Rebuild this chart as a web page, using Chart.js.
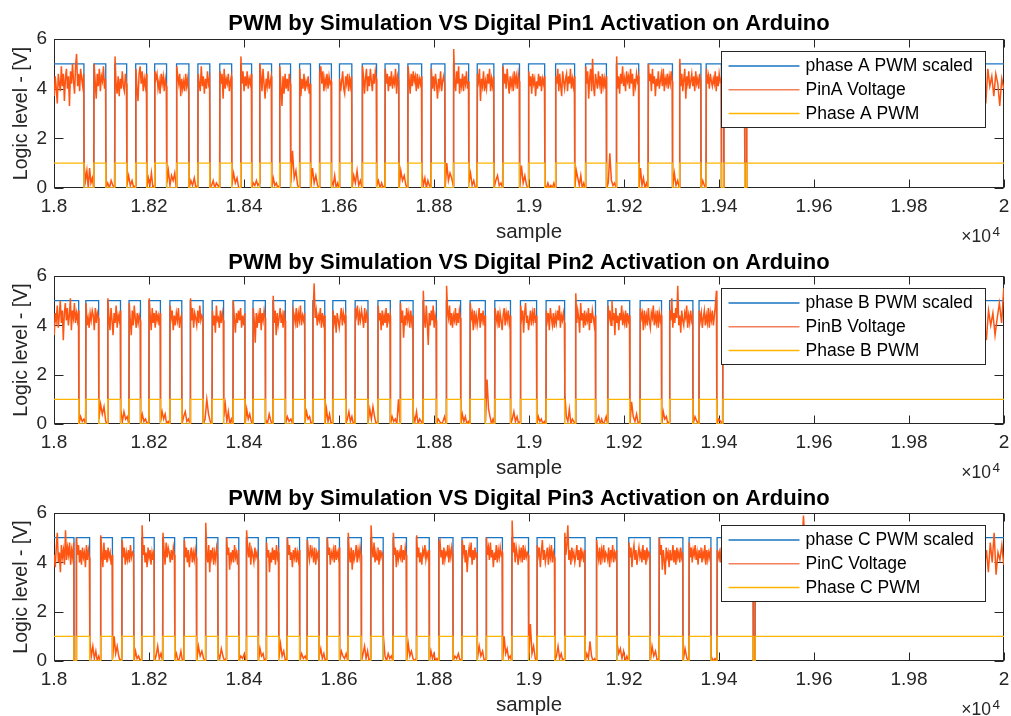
<!DOCTYPE html>
<html>
<head>
<meta charset="utf-8">
<script src="https://cdn.jsdelivr.net/npm/chart.js@4.4.1/dist/chart.umd.min.js"></script>
<style>
html,body{margin:0;padding:0;background:#fff;}
body{width:1011px;height:716px;position:relative;overflow:hidden;}
canvas{position:absolute;left:0;display:block;}
</style>
</head>
<body>
<canvas id="c1" width="1011" height="245" style="top:0px;width:1011px;height:245px"></canvas>
<canvas id="c2" width="1011" height="237" style="top:245px;width:1011px;height:237px"></canvas>
<canvas id="c3" width="1011" height="234" style="top:482px;width:1011px;height:234px"></canvas>
<script>
// ---------------- DATA ----------------
const xTickValues = [18000,18200,18400,18600,18800,19000,19200,19400,19600,19800,20000];
const xTickLabels = ['1.8','1.82','1.84','1.86','1.88','1.9','1.92','1.94','1.96','1.98','2'];
const yTickValues = [0,2,4,6];
const yTickLabels = ['0','2','4','6'];
const xExponent = '4';
const xAxisTitle = 'sample';
const yAxisTitle = 'Logic level - [V]';

const titles = [
  'PWM by Simulation VS Digital Pin1 Activation on Arduino',
  'PWM by Simulation VS Digital Pin2 Activation on Arduino',
  'PWM by Simulation VS Digital Pin3 Activation on Arduino'
];
const labelsA = ['phase A PWM scaled','PinA Voltage','Phase A PWM'];
const labelsB = ['phase B PWM scaled','PinB Voltage','Phase B PWM'];
const labelsC = ['phase C PWM scaled','PinC Voltage','Phase C PWM'];

// PWM levels (low, high)
const scaledLevels = [0, 5];
const pwmLevels = [0, 1];

// PWM switching instants (samples); signal starts high at 18000
const edgesA = [18063,18084,18109,18128,18153,18172,18195,18212,18237,18258,18284,18303,18328,18349,18374,18393,18416,18433,18458,18475,18498,18517,18540,18559,18584,18601,18627,18649,18679,18697,18726,18745,18774,18794,18823,18841,18873,18891,18926,18945,18980,18999,19033,19056,19096,19119,19163,19184,19231,19251,19302,19317,19362,19373,19405,19410,19454,19458];
const edgesB = [18052,18067,18094,18113,18140,18158,18182,18200,18224,18244,18269,18287,18314,18333,18357,18377,18402,18419,18445,18461,18487,18503,18528,18545,18570,18587,18614,18634,18661,18682,18708,18729,18756,18777,18805,18826,18856,18876,18908,18928,18961,18982,19016,19036,19075,19098,19140,19166,19212,19234,19279,19296,19345,19358,19395,19408];
const edgesC = [18042,18047,18075,18098,18123,18143,18168,18185,18211,18229,18254,18274,18300,18319,18345,18363,18389,18405,18430,18447,18473,18491,18517,18533,18558,18575,18601,18619,18647,18667,18693,18714,18742,18763,18790,18810,18840,18859,18891,18910,18944,18964,18999,19017,19054,19075,19118,19142,19185,19210,19255,19274,19324,19337,19383,19396,19472,19476];

// Measured pin voltage, one list of readings per PWM segment (high, low, high, ...)
const pinA = [
[3.7,4.5,4.0,3.4,4.6,4.2,3.9,4.9,4.1,4.6,3.5,4.4,4.8,4.0,4.5,3.3,4.7,4.2,5.0,4.3,3.8,4.9,5.4,4.1,4.6,3.9,4.8,4.4,4.1,4.6],
[0.9,0.3,0.7,0.0,0.8,0.2,0.4,0.0],
[5.0,4.3,3.6,4.6,4.1,4.8,3.9,4.5,4.3,4.9,4.0,4.4],
[0.0,0.2,0.0,0.3,0.1,0.0],
[5.3,4.2,3.8,4.5,3.7,4.4,4.0,4.7,4.1,3.9,4.6,4.2],
[0.1,0.5,0.1,0.3,0.0,0.1],
[4.8,4.0,3.5,4.6,4.9,4.2,4.7,3.9,4.4,4.1,4.6],
[0.0,0.4,0.1,0.6,0.0,0.1],
[4.7,4.4,4.6,4.0,4.3,3.8,4.6,4.2,4.5,3.9,4.4,4.1],
[0.2,0.7,0.1,0.5,0.3,0.6,0.0],
[4.9,4.5,4.2,4.6,3.7,4.4,4.0,4.3,3.9,4.6,4.1,4.4,3.9],
[0.0,0.3,0.1,0.4,0.0,0.1],
[4.6,4.2,3.9,4.9,4.1,4.5,3.8,4.4,4.0,4.7,4.2,4.4],
[0.0,0.1,0.3,0.0,0.2,0.1,0.0],
[4.7,4.2,4.6,3.6,4.8,4.0,4.4,4.2,4.6,3.9,4.3,4.5],
[0.1,0.6,0.2,0.4,0.0,0.0],
[5.3,4.2,4.7,3.9,4.5,4.1,4.7,4.0,4.4,4.2,4.6],
[0.0,0.2,0.1,0.3,0.1,0.2],
[5.0,4.5,3.9,4.8,4.2,3.6,4.4,4.1,4.7,4.0,4.3,4.5],
[0.0,0.4,0.1,0.2,0.0,0.1],
[4.9,4.1,3.3,4.5,3.8,4.6,4.0,4.4,3.9,4.6,4.2],
[0.2,1.5,0.4,0.7,0.1,0.0],
[4.8,3.7,4.4,4.0,4.6,3.9,4.3,4.1,4.5,3.8,4.2],
[0.0,0.8,0.2,0.5,0.1,0.0],
[4.6,4.9,4.2,4.7,3.9,4.4,4.1,4.6,4.0,4.5,4.2,4.3],
[0.3,0.1,0.5,0.0,0.2,0.0],
[4.4,3.9,4.3,4.7,4.0,3.8,4.5,4.2,4.6,3.9,4.4,4.1,4.5],
[0.0,0.5,0.2,0.7,0.1,0.3,0.0],
[4.9,4.5,3.8,4.4,4.8,3.9,4.5,4.1,4.8,4.3,3.9,4.6,4.2,4.7,4.4],
[0.1,0.3,0.0,0.2,0.0,0.1],
[4.8,4.2,4.6,3.9,4.5,4.1,4.7,4.0,4.4,4.2,4.8,3.8,4.5,4.3],
[0.0,0.7,0.3,0.5,0.1,0.0],
[4.9,4.4,3.8,4.6,4.1,4.7,4.3,4.5,3.9,4.6,4.0,4.4,4.2,4.5],
[0.6,0.1,0.4,0.0,0.3,0.1,0.0],
[4.8,4.0,4.5,3.9,4.6,4.2,3.6,4.4,4.1,4.7,3.9,4.3,4.5,4.2],
[0.0,1.0,0.3,0.6,0.4,0.1],
[5.6,4.3,3.9,4.7,4.2,4.9,3.8,4.4,4.1,4.6,3.9,4.5,4.2,4.7,4.0,4.3],
[0.2,0.6,0.1,0.3,0.0,0.0],
[4.6,4.3,4.8,3.5,4.4,4.1,4.7,3.9,4.3,4.0,4.6,4.2,4.8,3.9,4.4,4.1,4.5],
[0.0,0.3,0.5,0.1,0.2,0.0],
[4.9,4.2,4.6,4.0,4.8,4.3,3.8,4.5,4.1,4.4,3.9,4.7,4.2,4.5,4.0,4.6,4.3],
[0.0,0.9,0.2,0.5,0.1,0.0],
[4.7,4.1,4.5,3.8,4.6,4.2,4.4,3.7,4.3,4.0,4.6,4.1,4.5,3.9,4.4,4.2,4.5],
[0.1,0.0,0.2,0.0,0.1,0.0,0.2,0.0],
[4.5,4.2,4.8,3.9,4.6,4.1,3.7,4.7,4.3,4.0,4.4,4.6,3.9,4.5,4.2,4.8,4.0,4.4,4.1,4.5],
[0.0,0.7,0.4,0.1,0.5,0.0,0.2,0.0],
[4.9,4.2,4.7,3.6,4.4,4.8,3.9,5.2,4.1,3.7,4.6,4.3,4.0,4.7,4.2,4.5,3.8,4.6,4.1,4.4,4.0,4.5],
[0.0,0.2,1.4,0.3,0.1,0.2,0.0],
[5.3,4.0,4.5,3.8,4.6,4.2,4.9,4.1,4.4,3.9,4.7,4.3,4.5,4.0,4.8,4.2,4.6,3.7,4.4,4.1,4.6,4.3,4.5],
[0.0,0.8,0.1,0.4,0.0,0.2,0.0],
[5.0,4.3,4.6,3.9,4.8,4.2,4.5,3.7,4.4,4.1,4.7,4.0,4.3,4.6,4.1,4.8,3.9,4.4,4.2,4.6,4.0,4.5,4.2,4.7,4.3],
[0.0,0.6,0.1,0.3,0.0],
[5.2,4.1,4.6,3.9,4.4,4.8,3.6,4.5,4.2,4.7,4.0,4.3,4.6,4.1,4.5,3.9,4.7,4.2,4.4,4.0,4.6,4.3],
[0.0,0.3,0.1,0.0],
[4.8,4.2,4.5,4.0,4.6,4.3,4.1,4.4,4.2,4.7,3.9,4.5,4.1,4.6,4.3,4.4],
[0.0,0.0],
[4.5,4.2,4.4,4.1,4.3,4.0,4.5,4.2,4.4,4.1,4.3,4.2,4.6,4.0,4.4,4.2,4.5,4.1,4.3,4.4,4.2,4.5],
[0.0,0.0],
[4.3,4.0,4.6,4.2,3.8,4.5,4.1,4.7,4.3,3.9,4.4,4.2,4.8,4.0,4.5,3.7,4.3,4.6,4.1,4.4,
 3.9,4.5,4.2,4.7,4.0,4.3,4.6,3.8,4.4,4.1,4.5,4.2,3.9,4.6,4.3,4.0,4.8,4.2,4.4,3.8,
 4.5,4.1,4.7,4.3,4.0,4.4,4.6,3.9,4.2,4.5,4.1,4.3,3.8,4.6,4.2,4.4,4.0,4.7,4.3,3.9,
 4.5,4.2,4.6,4.0,4.4,4.1,3.7,4.5,4.3,4.8,4.0,4.4,4.2,3.9,4.6,4.1,4.5,4.3,4.0,4.7,
 4.2,4.4,3.8,4.5,4.1,4.6,4.3,4.0,4.4,4.2,4.6,4.1,4.4,3.9,4.7,4.2,4.5,4.0,4.3,4.6,
 4.1,4.4,4.2,4.8,3.9,4.5,4.1,4.6,4.3,4.0,4.4,4.7,3.6,4.5,4.1,4.9,3.8,4.4,4.0,4.6,
 3.4,4.8,4.1,4.5,3.7,4.6,4.2,3.3,4.4,4.0]
];

const pinB = [
[3.6,4.5,4.2,4.8,3.9,4.4,5.0,4.1,4.6,3.4,4.5,4.9,4.2,4.7,4.0,4.4,5.1,3.8,4.6,4.3,4.9,4.1,4.5,4.2,4.6],
[0.0,0.3,0.1,0.2,0.0],
[4.9,4.0,4.3,3.9,4.5,4.2,4.6,4.4,3.8,4.7,4.1,4.5,4.3],
[0.2,0.8,0.4,0.7,0.1,0.0],
[5.1,4.3,3.8,4.7,4.2,3.6,4.5,4.1,4.8,3.9,4.4,4.2,4.6],
[0.6,0.1,0.5,0.2,0.3,0.0],
[4.9,4.2,3.6,4.6,4.0,4.8,4.3,3.9,4.5,4.1,4.4,4.2],
[0.0,0.4,0.1,0.2,0.0,0.1],
[5.1,4.4,3.8,4.7,4.1,4.5,3.9,4.6,4.2,4.4,4.0,4.5],
[0.1,0.5,0.2,0.4,0.0,0.1,0.0],
[4.8,4.3,4.6,3.8,4.4,4.0,4.5,4.2,4.7,3.9,4.3,4.4],
[0.0,0.3,0.5,0.1,0.2,0.0],
[5.1,4.2,4.7,3.9,4.5,4.3,4.0,4.6,4.1,4.8,4.2,4.4,4.3],
[0.0,0.2,1.0,0.4,0.1,0.0],
[4.6,4.0,4.4,3.7,4.8,4.2,4.3,3.9,4.6,4.1,4.5,4.2],
[0.3,0.8,0.1,0.5,0.0,0.2,0.0],
[5.0,4.3,3.7,4.5,4.1,4.6,4.2,4.7,3.9,4.4,4.0,4.5],
[0.0,0.6,0.2,0.4,0.1,0.0],
[4.7,4.2,3.3,4.5,3.9,4.4,4.1,4.7,3.8,4.5,4.2,4.6,4.3],
[0.2,0.0,0.4,0.1,0.0],
[5.2,4.1,4.6,3.6,4.5,4.0,4.3,4.7,4.1,4.4,3.9,4.6,4.2],
[0.0,0.3,0.1,0.2,0.0],
[4.6,4.4,4.1,4.7,3.9,4.5,4.2,4.8,4.0,4.4,4.2,4.5],
[0.1,0.5,0.2,0.3,0.0,0.1],
[4.5,5.7,4.3,4.6,4.0,4.4,4.2,4.7,3.9,4.5,4.1,4.4],
[0.0,0.6,0.1,0.4,0.0,0.1],
[4.6,4.1,4.4,3.7,4.5,4.2,3.9,4.3,4.7,4.0,4.5,4.2,4.4],
[0.0,0.2,0.5,0.1,0.3,0.0,0.1],
[4.7,4.4,4.8,4.0,4.5,4.2,4.6,4.3,3.9,4.7,4.1,4.5,4.3],
[0.1,0.6,0.2,0.7,0.3,0.0,0.1],
[4.8,4.2,4.5,3.8,4.6,4.0,4.4,4.1,4.7,3.9,4.5,4.2,4.4],
[0.0,0.3,0.1,0.2,0.0,1.0,0.1],
[4.9,4.1,4.6,3.5,4.4,4.0,4.7,4.2,4.5,3.9,4.6,4.1,4.4],
[0.4,0.1,0.5,0.0,0.2,0.1,0.0],
[5.4,4.3,3.9,4.8,4.1,3.2,4.5,4.0,4.6,4.2,4.8,3.9,4.4,4.2],
[0.0,0.2,0.1,0.0,0.1,0.3,0.0],
[5.6,4.6,4.3,4.8,4.0,4.5,3.9,4.4,4.2,4.7,4.0,4.5,4.1,4.6,4.3],
[0.0,0.4,0.1,0.3,0.0,0.1,0.0],
[4.9,4.3,4.5,3.8,4.6,4.1,4.4,4.0,4.3,4.7,3.9,4.5,4.2,4.6,4.0,4.4],
[0.1,1.8,0.6,0.3,0.0,0.2,0.0],
[4.7,4.4,4.1,4.6,3.9,4.5,4.2,3.8,4.4,4.7,4.0,4.5,4.2,4.6,4.1,4.4],
[0.0,0.2,0.5,0.1,0.3,0.0,0.1],
[4.8,4.3,4.6,3.7,4.5,4.9,4.1,4.4,3.8,4.2,4.6,4.0,4.5,4.2,4.7,4.1,4.4],
[0.0,0.3,0.1,0.2,0.0,0.1,0.0],
[4.6,4.2,4.5,3.8,4.7,4.3,4.0,4.5,3.9,4.4,4.1,4.6,4.2,4.8,3.9,4.4,4.2,4.5,4.1],
[1.2,0.3,0.1,0.6,0.0,0.2,0.1,0.0],
[5.3,4.1,4.6,4.3,3.7,4.9,4.2,4.5,3.9,4.6,4.0,4.4,4.2,4.7,3.8,4.5,4.1,4.6,4.3,4.0,4.4],
[0.0,0.1,0.3,0.0,0.2,0.0,0.1,0.3,0.0],
[4.8,4.3,4.6,4.0,5.0,4.2,4.5,3.6,4.7,4.1,4.4,3.8,4.5,4.2,4.8,4.0,4.4,4.1,4.6,3.9,4.5,4.2,4.4],
[0.0,0.9,0.3,0.1,0.4,0.0,0.1],
[4.7,4.3,4.5,3.8,4.6,4.1,4.4,4.0,4.7,4.2,3.9,4.5,4.3,4.8,4.0,4.4,4.1,4.6,3.9,4.5,4.2,4.4],
[0.0,0.5,0.2,0.3,0.0,0.1],
[4.6,4.2,5.1,3.9,4.5,4.1,4.7,4.3,5.6,4.0,4.4,3.7,4.6,4.2,4.0,4.5,4.3,4.8,3.9,4.4,4.1,4.6,4.2,4.4],
[0.0,0.3,0.1,0.0],
[4.6,4.2,4.5,3.9,4.3,4.6,4.0,4.4,4.1,4.7,3.9,4.5,4.2,4.6,4.0,4.4,4.8,5.4],
[0.0,0.2,0.1,0.0],
[4.4,4.1,4.6,4.2,3.9,4.5,4.3,4.0,4.7,4.2,4.4,3.8,4.5,4.1,4.6,4.3,4.0,4.4,4.2,4.7,
 3.9,4.3,4.5,4.1,4.6,4.0,4.4,4.2,3.8,4.5,4.3,4.6,4.0,4.4,4.1,4.7,4.2,3.9,4.5,4.3,
 4.0,4.6,4.2,4.4,3.8,4.5,4.1,4.3,4.7,4.0,4.4,4.2,4.6,3.9,4.3,4.5,4.1,4.4,4.0,4.6,
 4.2,4.5,3.8,4.4,4.1,4.6,4.3,4.0,4.5,4.2,4.7,4.1,4.4,3.9,4.5,4.2,4.6,4.0,4.3,4.4,
 4.1,4.6,3.8,4.5,4.2,4.4,4.0,4.7,4.3,4.1,4.5,4.2,4.6,3.9,4.4,4.1,4.7,4.0,4.5,4.2,
 4.4,3.9,4.6,4.2,4.5,4.0,4.3,4.7,4.1,4.4,4.6,3.5,4.9,4.0,4.3,3.6,4.4,4.1,3.7,4.8,
 4.2,3.4,4.6,4.0,4.5,3.6,4.3,4.9,4.1,5.5]
];

const pinC = [
[4.3,3.8,4.6,5.2,4.0,4.4,3.6,4.7,4.2,4.5,3.9,5.3,4.1,4.6,4.3,4.8,3.9,4.5,4.2,4.8],
[0.0,0.0],
[5.0,4.3,4.7,4.0,4.5,3.9,4.6,4.2,4.4,3.8,4.7,4.1,4.5,4.2],
[0.8,0.2,0.6,0.1,0.4,0.0,0.2,0.0],
[5.1,4.4,3.8,4.8,4.1,4.5,4.0,4.6,4.2,4.4,3.9,4.3],
[0.1,1.0,0.3,0.6,0.2,0.0,0.1],
[4.9,4.2,4.6,3.9,4.4,4.1,4.5,4.0,4.7,4.2,4.4,4.3],
[0.0,0.4,0.1,0.2,0.0,0.1],
[5.5,4.3,4.7,4.0,4.4,3.8,4.6,4.2,4.5,3.9,4.4,4.1,4.5],
[0.0,0.2,0.6,0.1,0.3,0.0],
[5.2,4.5,3.9,4.8,4.2,4.6,4.4,4.0,4.5,4.1,4.6,4.3],
[0.1,0.3,0.0,0.1,0.4,0.0,0.1],
[4.9,4.2,4.6,4.0,4.5,3.8,4.3,4.6,4.0,4.4,4.1,4.5,4.2],
[0.0,0.6,0.2,0.4,0.1,0.0],
[5.6,4.4,4.0,4.7,3.6,4.5,4.2,4.6,3.9,4.4,4.1,4.6,4.3],
[0.3,0.1,0.5,0.2,0.0,0.1],
[5.0,4.3,4.6,3.7,4.4,4.1,4.5,4.0,4.7,4.2,4.4,3.9,4.5],
[0.0,0.2,0.1,0.3,0.0],
[5.3,4.6,4.2,4.8,3.9,4.5,4.3,4.0,4.6,4.2,4.4,4.1],
[0.0,0.5,0.2,0.3,0.0,0.1],
[4.8,4.2,4.5,3.6,4.4,4.0,4.6,4.1,4.5,3.9,4.7,4.2,4.4],
[0.1,0.7,0.2,0.4,0.0,0.1],
[5.0,4.3,4.7,4.1,4.4,3.8,4.5,4.2,4.6,4.0,4.4,4.1,4.5],
[0.0,0.3,0.1,0.2,0.0],
[4.9,4.4,4.1,4.7,4.3,4.5,4.0,4.6,3.9,4.4,4.2,4.5],
[0.2,0.5,0.1,0.3,0.0,0.1],
[5.0,4.3,4.6,3.9,4.4,4.2,4.5,4.0,4.7,4.1,4.4,4.2,4.6],
[0.0,0.4,0.2,0.1,0.3,0.0],
[5.2,4.4,4.0,4.6,3.7,4.5,4.1,4.3,4.7,4.0,4.5,4.2,4.6,4.3],
[0.0,0.3,0.6,0.1,0.4,0.0,0.1],
[5.5,4.6,4.2,4.8,4.0,4.4,4.1,4.6,3.9,4.5,4.2,4.4,4.3],
[1.0,0.2,0.0,0.3,0.1,0.2,0.0],
[5.2,4.3,4.6,3.8,4.5,4.1,4.4,4.2,4.7,4.0,4.5,4.1,4.6,4.3],
[0.0,0.7,0.2,0.4,0.1,0.0,0.1],
[5.1,4.2,4.6,4.0,4.4,3.9,4.5,4.3,4.7,4.1,4.4,4.2,4.5],
[0.0,0.4,0.1,0.3,0.0,0.1,0.0],
[4.8,4.9,4.2,4.5,3.9,4.6,4.1,4.4,4.3,4.7,4.0,4.5,4.2,4.6,4.3],
[0.0,0.2,0.1,0.3,0.0,0.1],
[4.9,4.4,4.7,4.0,4.5,3.6,4.3,4.6,4.2,4.8,3.9,4.5,4.1,4.6,4.2,4.4],
[0.1,0.6,0.2,0.4,0.0,0.1],
[5.0,4.3,4.6,4.1,4.8,4.2,4.5,3.8,4.4,4.1,4.7,4.0,4.5,4.2,4.6,4.3,4.4],
[0.0,1.0,0.3,0.5,0.1,0.2,0.0],
[5.7,4.4,4.8,4.0,4.6,4.3,3.9,4.5,4.2,4.6,4.0,4.7,4.1,4.5,4.2,4.4,4.3],
[0.1,1.5,0.3,0.6,0.1,0.0],
[4.7,4.3,4.6,3.8,4.4,4.9,4.1,4.5,4.0,4.3,4.6,3.9,4.5,4.2,4.7,4.0,4.4,4.2],
[0.0,0.2,0.6,0.1,0.3,0.0,0.1],
[5.2,4.3,4.7,5.5,4.1,4.5,3.9,4.6,4.2,4.4,4.0,4.3,4.7,4.1,4.5,3.8,4.6,4.2,4.4,4.0,4.5],
[0.0,0.3,0.1,0.8,0.2,0.0,0.1,0.0],
[4.9,4.4,4.1,4.6,3.9,4.5,4.2,4.7,4.0,4.4,4.3,4.1,4.6,3.8,4.5,4.2,4.7,4.0,4.4,4.2,4.5],
[0.7,0.3,0.5,0.1,0.4,0.0,0.2,0.0],
[4.8,4.2,4.6,3.8,4.4,4.7,4.1,4.5,3.9,4.3,4.6,4.2,4.4,4.0,4.7,4.1,4.5,3.9,4.6,4.2,4.4,4.3],
[0.0,0.6,0.2,0.4,0.0,0.1],
[5.0,4.3,4.7,3.7,4.5,4.1,3.5,4.6,4.2,4.4,3.8,4.5,4.1,4.3,4.7,4.0,4.5,3.9,4.6,4.2,4.4,4.0,4.6,4.2,4.4],
[0.0,0.5,0.1,0.0],
[4.8,4.2,4.6,4.0,4.5,4.3,4.7,4.1,4.4,3.9,4.5,4.2,4.6,4.0,4.4,4.2,4.7,3.9,4.5,4.1,4.4,4.2,4.6],
[0.2,0.0,0.1,0.0],
[4.5,4.2,4.4,4.0,4.6,4.1,4.3,4.5,4.2,4.4,4.1,4.6,4.3,4.0,4.5,4.2,4.4,4.1,4.3,4.5,4.2,4.6,4.0,4.4,4.1,4.5,4.3,4.0,4.6,4.2,4.4,4.1,4.5,4.3,4.2,4.6,4.1,4.4],
[0.0,0.0],
[4.4,4.1,4.6,4.2,3.9,4.5,4.3,4.0,4.6,4.2,4.4,4.1,4.5,3.9,4.3,4.6,4.1,4.4,4.2,4.5,
 4.0,4.3,4.6,4.1,4.4,5.9,4.3,4.0,4.5,4.2,4.6,4.1,4.4,3.8,4.5,4.2,4.6,4.0,4.3,4.5,
 4.1,4.4,4.2,4.7,4.0,4.3,4.5,4.1,4.6,4.2,3.9,4.4,4.3,4.6,4.0,4.5,4.2,4.4,4.1,4.7,
 4.3,3.9,4.5,4.2,4.6,4.0,4.4,4.1,4.5,4.3,4.0,4.6,4.2,4.4,3.8,4.5,4.1,4.3,4.6,4.2,
 4.0,4.5,4.3,4.4,4.1,4.6,4.2,4.5,3.9,4.4,4.1,4.6,4.3,4.0,4.5,4.2,4.7,4.1,4.4,4.2,
 4.6,3.9,4.5,4.1,4.4,4.2,4.6,4.0,4.3,4.5,4.7,3.6,4.4,4.9,3.5,4.2,4.6,3.9,5.1,3.8,
 4.5,3.6,4.8,4.0,5.2,3.5,4.4,4.1,4.7,3.9]
];

// ---------------- STYLE / LAYOUT ----------------
const FONT = "'Liberation Sans', Arial, Helvetica, sans-serif";
const BLUE = '#1A75C2';
const ORANGE = '#FF5512';
const YELLOW = '#FFB400';
const AXIS = '#262626';
const X_MIN = xTickValues[0], X_MAX = xTickValues[xTickValues.length - 1];

function stepPoints(edges, levels) {
  let hi = true;
  const pts = [{x: X_MIN, y: levels[1]}];
  for (const e of edges) {
    pts.push({x: e, y: levels[hi ? 1 : 0]});
    hi = !hi;
    pts.push({x: e, y: levels[hi ? 1 : 0]});
  }
  pts.push({x: X_MAX, y: levels[hi ? 1 : 0]});
  return pts;
}
function pinPoints(edges, segs) {
  const b = [X_MIN, ...edges, X_MAX];
  if (segs.length !== b.length - 1) console.warn('segment mismatch', segs.length, b.length - 1);
  const pts = [];
  segs.forEach((vals, k) => {
    const a0 = b[k] + 0.5, a1 = b[k + 1] - 0.5, n = vals.length;
    vals.forEach((v, j) => pts.push({x: n === 1 ? (a0 + a1) / 2 : a0 + j * (a1 - a0) / (n - 1), y: v}));
  });
  return pts;
}

const axesBox = {
  id: 'axesBox',
  beforeDatasetsDraw(chart) {
    const {ctx, chartArea: ca, scales: {x, y}} = chart;
    ctx.save();
    ctx.strokeStyle = AXIS; ctx.lineWidth = 1;
    const L = Math.round(ca.left) + 0.5, R = Math.round(ca.right) - 0.5;
    const T = Math.round(ca.top) + 0.5, B = Math.round(ca.bottom) - 0.5;
    ctx.strokeRect(L, T, R - L, B - T);
    ctx.beginPath();
    x.ticks.forEach(t => {
      const px = Math.round(x.getPixelForValue(t.value)) + 0.5;
      ctx.moveTo(px, B); ctx.lineTo(px, B - 8);
      ctx.moveTo(px, T); ctx.lineTo(px, T + 8);
    });
    y.ticks.forEach(t => {
      const py = Math.round(y.getPixelForValue(t.value)) + 0.5;
      ctx.moveTo(L, py); ctx.lineTo(L + 9, py);
      ctx.moveTo(R, py); ctx.lineTo(R - 9, py);
    });
    ctx.stroke();
    ctx.restore();
  }
};

const boxLegend = {
  id: 'boxLegend',
  afterDatasetsDraw(chart) {
    const {ctx, chartArea: ca} = chart;
    const w = 264, h = 76;
    const left = Math.round(ca.right - 283.5) + 0.5, top = Math.round(ca.top + 12) + 0.5;
    ctx.save();
    ctx.fillStyle = '#fff';
    ctx.fillRect(left, top, w, h);
    ctx.strokeStyle = AXIS; ctx.lineWidth = 1;
    ctx.strokeRect(left, top, w, h);
    [0, 1, 2].forEach((di, i) => {
      const ds = chart.data.datasets[di];
      const yy = top + 14.5 + i * 23.8;
      ctx.strokeStyle = ds.legendColor || ds.borderColor;
      ctx.lineWidth = 1.5;
      ctx.beginPath(); ctx.moveTo(left + 7, yy); ctx.lineTo(left + 78, yy); ctx.stroke();
      ctx.fillStyle = '#000';
      ctx.font = '17.5px ' + FONT;
      ctx.textBaseline = 'middle'; ctx.textAlign = 'left';
      ctx.fillText(ds.label, left + 84, yy + 0.5);
    });
    ctx.restore();
  }
};

const exponentLabel = {
  id: 'exponentLabel',
  afterDraw(chart) {
    const {ctx, chartArea: ca} = chart;
    ctx.save();
    ctx.fillStyle = AXIS;
    ctx.textBaseline = 'alphabetic';
    ctx.font = '17.5px ' + FONT;
    ctx.textAlign = 'right';
    ctx.fillText('\u00D710', ca.right - 13, ca.bottom + 54);
    ctx.font = '13.5px ' + FONT;
    ctx.textAlign = 'left';
    ctx.fillText(xExponent, ca.right - 11.5, ca.bottom + 48);
    ctx.restore();
  }
};

const panels = [
  {id: 'c1', h: 245, top: 39, bottom: 188, titleC: 23.7, title: titles[0], labels: labelsA, edges: edgesA, pin: pinA},
  {id: 'c2', h: 237, top: 31, bottom: 179, titleC: 18.0, title: titles[1], labels: labelsB, edges: edgesB, pin: pinB},
  {id: 'c3', h: 234, top: 31, bottom: 179, titleC: 17.3, title: titles[2], labels: labelsC, edges: edgesC, pin: pinC}
];

panels.forEach(p => {
  const titleSize = 22, titleLH = titleSize * 1.2;
  const tTop = p.titleC - titleLH / 2;
  const tBot = p.top - tTop - titleLH;
  const xH = p.h - p.bottom;
  const xTitleSize = 20.5, xTitleLH = xTitleSize * 1.2;
  const xTitlePad = xH - 44.7 - xTitleLH / 2;
  const tickSize = 19, tickLH = tickSize * 1.2;
  new Chart(document.getElementById(p.id), {
    type: 'line',
    data: {
      datasets: [
        {label: p.labels[0], data: stepPoints(p.edges, scaledLevels), borderColor: BLUE, borderWidth: 1.3, order: 3},
        {label: p.labels[1], data: pinPoints(p.edges, p.pin), borderColor: ORANGE, legendColor: '#F3805A', borderWidth: 1.5, order: 2},
        {label: p.labels[2], data: stepPoints(p.edges, pwmLevels), borderColor: YELLOW, borderWidth: 1.3, order: 1}
      ]
    },
    options: {
      responsive: false,
      animation: false,
      events: [],
      elements: {point: {radius: 0}, line: {tension: 0, fill: false}},
      layout: {padding: {left: 0, right: 7, top: 0, bottom: 0}},
      plugins: {
        legend: {display: false},
        tooltip: {enabled: false},
        title: {
          display: true, text: p.title, color: '#000', fullSize: false,
          font: {family: FONT, size: titleSize, weight: 'bold'},
          padding: {top: tTop, bottom: tBot}
        }
      },
      scales: {
        x: {
          type: 'linear', min: X_MIN, max: X_MAX,
          afterBuildTicks: s => { s.ticks = xTickValues.map(v => ({value: v})); },
          afterFit: s => { s.height = xH; s.paddingLeft = 0; s.paddingRight = 0; },
          ticks: {
            autoSkip: false, maxRotation: 0, padding: 19 - tickLH / 2, color: AXIS,
            font: {family: FONT, size: tickSize},
            callback: v => xTickLabels[xTickValues.indexOf(v)]
          },
          grid: {display: false, drawTicks: false},
          border: {display: false},
          title: {display: true, text: xAxisTitle, color: AXIS, font: {family: FONT, size: xTitleSize}, padding: {top: 0, bottom: xTitlePad}}
        },
        y: {
          min: 0, max: 6,
          afterBuildTicks: s => { s.ticks = yTickValues.map(v => ({value: v})); },
          afterFit: s => { s.width = 54; },
          ticks: {
            padding: 7, color: AXIS,
            font: {family: FONT, size: tickSize},
            callback: v => yTickLabels[yTickValues.indexOf(v)]
          },
          grid: {display: false, drawTicks: false},
          border: {display: false},
          title: {display: true, text: yAxisTitle, color: AXIS, font: {family: FONT, size: 19.5}, padding: {top: 10, bottom: 0}}
        }
      }
    },
    plugins: [axesBox, boxLegend, exponentLabel]
  });
});
</script>
</body>
</html>
